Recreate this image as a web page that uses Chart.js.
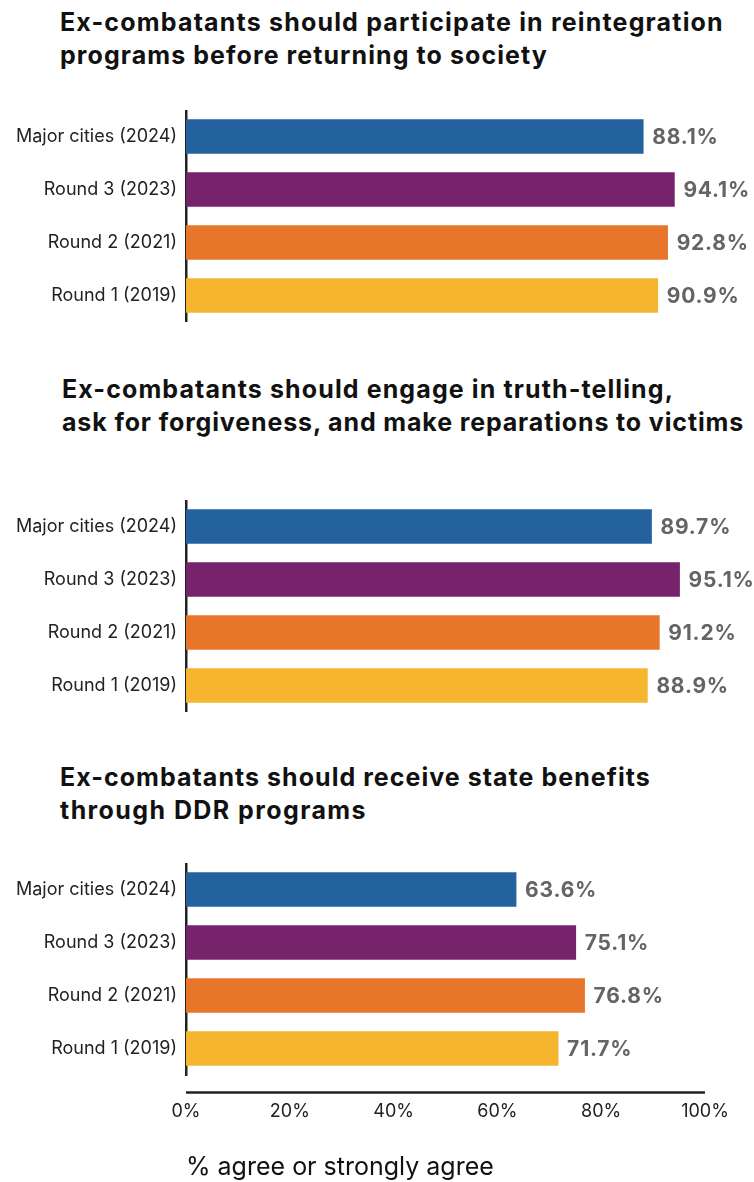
<!DOCTYPE html>
<html><head><meta charset="utf-8">
<script src="https://cdn.jsdelivr.net/npm/chart.js@4.4.1/dist/chart.umd.min.js"></script>
<style>
html,body{margin:0;padding:0;background:#fff;}
#wrap{position:relative;width:754px;height:1182px;overflow:hidden;font-family:Inter,"Noto Sans",sans-serif;}
.ttl{position:absolute;font-weight:700;font-size:25px;line-height:33px;color:#111;white-space:nowrap;}
.ttl span{display:inline-block;}
canvas{position:absolute;left:0;display:block;}
</style></head>
<body><div id="wrap">
<div class="ttl" id="t1" style="left:60px;top:6px;"></div>
<div class="ttl" id="t2" style="left:62px;top:373px;"></div>
<div class="ttl" id="t3" style="left:60px;top:761px;"></div>
<canvas id="c1" width="754" height="212" style="top:110px;width:754px;height:212px;"></canvas>
<canvas id="c2" width="754" height="212" style="top:500px;width:754px;height:212px;"></canvas>
<canvas id="c3" width="754" height="319" style="top:863px;width:754px;height:319px;"></canvas>
</div>
<script>
const categories = ["Major cities (2024)", "Round 3 (2023)", "Round 2 (2021)", "Round 1 (2019)"];
const barColors = ["#23629f", "#76236b", "#e8762a", "#f5b52e"];
const titles = [
  ["Ex-combatants should participate in reintegration", "programs before returning to society"],
  ["Ex-combatants should engage in truth-telling,", "ask for forgiveness, and make reparations to victims"],
  ["Ex-combatants should receive state benefits", "through DDR programs"]
];
const reintegrationValues = [88.1, 94.1, 92.8, 90.9];
const truthTellingValues = [89.7, 95.1, 91.2, 88.9];
const stateBenefitsValues = [63.6, 75.1, 76.8, 71.7];
const xTickLabels = ["0%", "20%", "40%", "60%", "80%", "100%"];
const xAxisTitle = "% agree or strongly agree";

// layout only: target pixel widths of each title line (to mimic the wide reference typeface)
const titleLineWidths = [[664, 488], [612, 682], [591, 307]];

["t1","t2","t3"].forEach((id,i)=>{
  const el=document.getElementById(id);
  titles[i].forEach((line,j)=>{
    if(j) el.appendChild(document.createElement('br'));
    const sp=document.createElement('span');
    sp.textContent=line;
    el.appendChild(sp);
    const w=sp.getBoundingClientRect().width;
    const n=line.length;
    const ls=(titleLineWidths[i][j]-w)/n;
    sp.style.letterSpacing=ls.toFixed(2)+'px';
  });
});

const FONT = 'Inter, "Noto Sans", sans-serif';

const valueLabels = {
  id: 'valueLabels',
  afterDatasetsDraw(chart) {
    const ctx = chart.ctx;
    const meta = chart.getDatasetMeta(0);
    ctx.save();
    ctx.font = 'bold 21px ' + FONT;
    if ('letterSpacing' in ctx) ctx.letterSpacing = '0.8px';
    ctx.fillStyle = '#646464';
    ctx.textAlign = 'left';
    ctx.textBaseline = 'middle';
    meta.data.forEach((bar, i) => {
      const v = chart.data.datasets[0].data[i];
      ctx.fillText(v.toFixed(1) + '%', bar.x + 9, bar.y + 1);
    });
    ctx.restore();
  }
};

const bottomLine = {
  id: 'bottomLine',
  afterDraw(chart) {
    const x = chart.scales.x;
    if (!x.options.display) return;
    const ctx = chart.ctx;
    ctx.save();
    ctx.strokeStyle = '#222';
    ctx.lineWidth = 2.5;
    ctx.beginPath();
    ctx.moveTo(x.left, x.top + 17.5);
    ctx.lineTo(x.right, x.top + 17.5);
    ctx.stroke();
    ctx.restore();
  }
};

function makeChart(id, values, showX) {
  return new Chart(document.getElementById(id), {
    type: 'bar',
    data: {
      labels: categories,
      datasets: [{ data: values, backgroundColor: barColors, barThickness: 34, borderWidth: 0 }]
    },
    plugins: [valueLabels, bottomLine],
    options: {
      indexAxis: 'y',
      responsive: false,
      animation: false,
      layout: { padding: { left: 0, right: 49, top: 0, bottom: 0 } },
      plugins: { legend: { display: false }, tooltip: { enabled: false }, title: { display: false } },
      scales: {
        x: {
          display: showX,
          min: 0, max: 100,
          grid: { display: false, drawTicks: false },
          border: { display: false },
          ticks: {
            stepSize: 20,
            padding: 26,
            color: '#222',
            font: { family: FONT, size: 18 },
            callback: (v, i) => xTickLabels[i]
          },
          title: {
            display: showX,
            text: xAxisTitle,
            align: 'start',
            color: '#111',
            font: { family: FONT, size: 25 },
            padding: { top: 0, bottom: 0 }
          },
          afterFit(s) { if (showX) { s.height = 107; s.paddingLeft = 0; s.paddingRight = 0; } }
        },
        y: {
          grid: { display: false, drawTicks: false },
          border: { display: true, color: '#222', width: 2.5 },
          ticks: { color: '#222', padding: 9, font: { family: FONT, size: 18 } },
          afterFit(s) { s.width = 186; s.paddingTop = 0; s.paddingBottom = 0; }
        }
      }
    }
  });
}
makeChart('c1', reintegrationValues, false);
makeChart('c2', truthTellingValues, false);
makeChart('c3', stateBenefitsValues, true);
</script>
</body></html>
